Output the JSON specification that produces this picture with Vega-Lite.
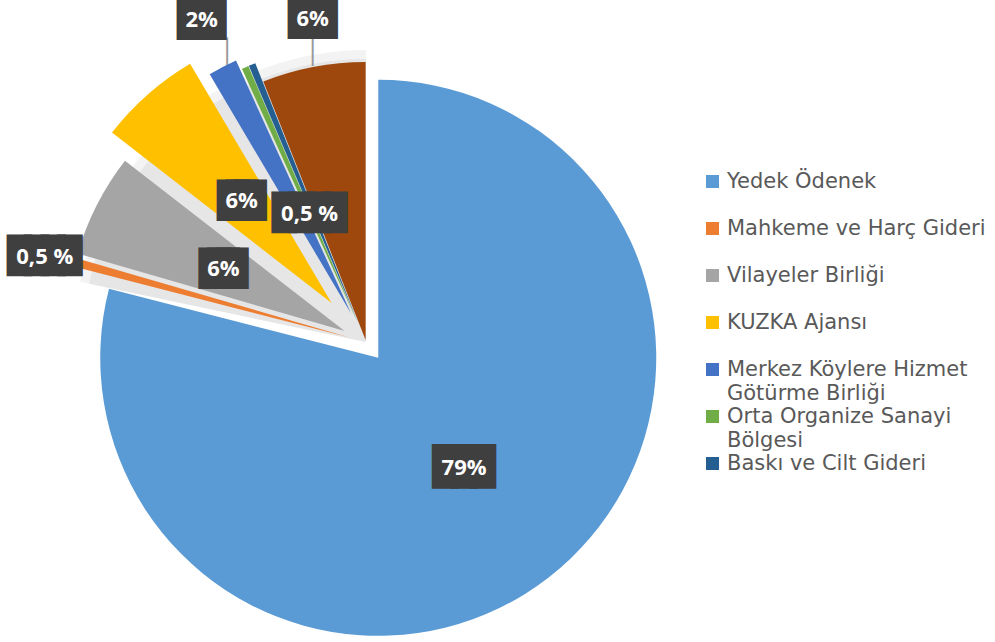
{
  "$schema": "https://vega.github.io/schema/vega-lite/v6.json",
  "width": 732,
  "height": 600,
  "autosize": "none",
  "padding": {"left": 0, "top": 42, "right": 263, "bottom": 0},
  "background": "white",
  "config": {"view": {"stroke": null}},
  "datasets": {
    "slices": [
      {"idx": 1, "category": "Yedek Ödenek", "value": 79, "label": "79%"},
      {"idx": 2, "category": "Mahkeme ve Harç Gideri", "value": 0.5, "label": "0,5 %"},
      {"idx": 3, "category": "Vilayeler Birliği", "value": 6, "label": "6%"},
      {"idx": 4, "category": "KUZKA Ajansı", "value": 6, "label": "6%"},
      {"idx": 5, "category": "Merkez Köylere Hizmet Götürme Birliği", "value": 1.7, "label": "2%"},
      {"idx": 6, "category": "Orta Organize Sanayi Bölgesi", "value": 0.4, "label": "0,5 %"},
      {"idx": 7, "category": "Baskı ve Cilt Gideri", "value": 0.4, "label": ""},
      {"idx": 8, "category": "Diğer", "value": 6, "label": "6%"}
    ],
    "disc": [{"k": 1}]
  },
  "layer": [
    {
      "data": {"name": "disc"},
      "mark": {"type": "arc", "theta": 4.92, "theta2": 6.2832, "radius": 292, "fill": "#F3F3F3"},
      "encoding": {}
    },
    {
      "data": {"name": "disc"},
      "mark": {"type": "arc", "theta": 4.92, "theta2": 6.2832, "radius": 283, "fill": "#E6E6E6"},
      "encoding": {}
    },
    {
      "data": {"name": "slices"},
      "mark": {
        "type": "text",
        "font": "DejaVu Sans Mono",
        "fontSize": 24,
        "fill": "#9A9A9A",
        "align": "center",
        "baseline": "middle",
        "text": {"expr": "datum.idx == 5 || datum.idx == 8 ? '│' : ''"},
        "radius": {"expr": "[160,332,160,188,362,140,0,327][datum.idx-1]"},
        "dx": {"expr": "datum.idx == 5 ? 28.5 : 8"},
        "dy": {"expr": "datum.idx == 5 ? 32 : 32.5"}
      },
      "encoding": {
        "theta": {"field": "value", "type": "quantitative", "stack": true},
        "order": {"field": "idx", "type": "quantitative"}
      }
    },
    {
      "data": {"name": "slices"},
      "transform": [{"joinaggregate": [{"op": "sum", "field": "value", "as": "total"}]}],
      "mark": {
        "type": "arc",
        "radius": 278,
        "xOffset": {"expr": "[20,18,24,52,32,22,22,2][datum.idx-1]*sin(PI*(datum.value_start+datum.value_end)/datum.total)"},
        "yOffset": {"expr": "-[20,18,24,52,32,22,22,2][datum.idx-1]*cos(PI*(datum.value_start+datum.value_end)/datum.total)"}
      },
      "encoding": {
        "theta": {"field": "value", "type": "quantitative", "stack": true},
        "order": {"field": "idx", "type": "quantitative"},
        "color": {
          "field": "category",
          "type": "nominal",
          "scale": {
            "domain": ["Yedek Ödenek", "Mahkeme ve Harç Gideri", "Vilayeler Birliği", "KUZKA Ajansı", "Merkez Köylere Hizmet Götürme Birliği", "Orta Organize Sanayi Bölgesi", "Baskı ve Cilt Gideri", "Diğer"],
            "range": ["#5B9BD5", "#ED7D31", "#A5A5A5", "#FFC000", "#4472C4", "#70AD47", "#255E91", "#9E480E"]
          },
          "legend": {
            "values": ["Yedek Ödenek", "Mahkeme ve Harç Gideri", "Vilayeler Birliği", "KUZKA Ajansı", "Merkez Köylere Hizmet Götürme Birliği", "Orta Organize Sanayi Bölgesi", "Baskı ve Cilt Gideri"],
            "title": null,
            "orient": "none",
            "legendX": 702,
            "legendY": 129,
            "padding": 0,
            "gridAlign": "all",
            "rowPadding": 0,
            "symbolType": "square",
            "symbolSize": 169,
            "symbolStrokeWidth": 0,
            "labelFont": "DejaVu Sans",
            "labelFontSize": 21,
            "labelColor": "#595959",
            "labelOffset": 4,
            "labelLimit": 300,
            "labelExpr": "datum.label == 'Merkez Köylere Hizmet Götürme Birliği' ? ['Merkez Köylere Hizmet', 'Götürme Birliği'] : (datum.label == 'Orta Organize Sanayi Bölgesi' ? ['Orta Organize Sanayi', 'Bölgesi'] : datum.label)",
            "encode": {"labels": {"update": {"lineHeight": {"value": 24.8}}}}
          }
        }
      }
    },
    {
      "data": {"name": "slices"},
      "mark": {
        "type": "text",
        "font": "DejaVu Sans Mono",
        "align": "center",
        "baseline": "middle",
        "fill": "#3F3F3F",
        "stroke": "#3F3F3F",
        "strokeJoin": "miter",
        "text": {"expr": "datum.label == '' ? '' : (length(datum.label) > 3 ? '████' : '███')"},
        "fontSize": {"expr": "length(datum.label) > 3 ? 28 : (length(datum.label) == 3 ? 31 : 14)"},
        "strokeWidth": {"expr": "length(datum.label) > 3 ? 8.3 : (length(datum.label) == 3 ? 7.7 : 24.7)"},
        "radius": {"expr": "[160,332,160,188,362,140,0,327][datum.idx-1]"},
        "dx": {"expr": "[0,-1,0,0,3,0,0,8][datum.idx-1]"},
        "dy": {"expr": "[0,3,0,0,-1.5,0,0,-1.5][datum.idx-1]"}
      },
      "encoding": {
        "theta": {"field": "value", "type": "quantitative", "stack": true},
        "order": {"field": "idx", "type": "quantitative"}
      }
    },
    {
      "data": {"name": "slices"},
      "mark": {
        "type": "text",
        "font": "Open Sans",
        "fontWeight": "bold",
        "fontSize": 22,
        "fill": "white",
        "align": "center",
        "baseline": "middle",
        "radius": {"expr": "[160,332,160,188,362,140,0,327][datum.idx-1]"},
        "dx": {"expr": "[0,-1,0,0,3,0,0,8][datum.idx-1]"},
        "dy": {"expr": "[0,3,0,0,-1.5,0,0,-1.5][datum.idx-1]"}
      },
      "encoding": {
        "theta": {"field": "value", "type": "quantitative", "stack": true},
        "order": {"field": "idx", "type": "quantitative"},
        "text": {"field": "label", "type": "nominal"}
      }
    }
  ]
}
